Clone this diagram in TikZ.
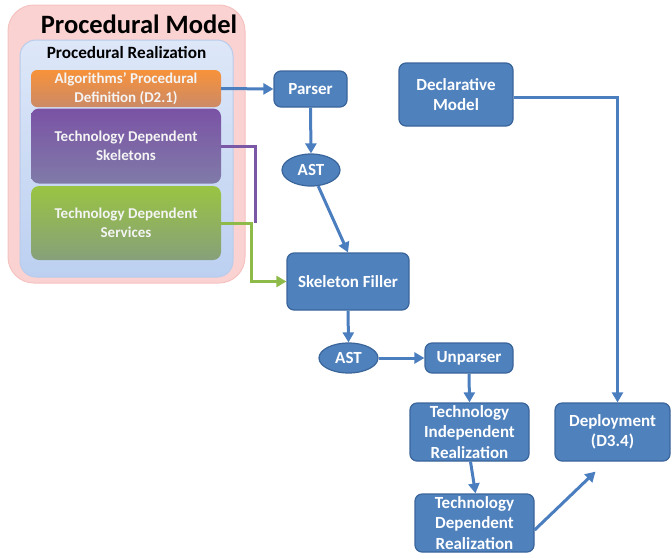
\documentclass[tikz,border=0pt]{standalone}
\usepackage{fontspec}
\setmainfont{Carlito}
\usetikzlibrary{arrows.meta,shapes.geometric}
\definecolor{boxblue}{HTML}{4F81BD}
\definecolor{boxedge}{HTML}{3A659A}
\definecolor{linkblue}{HTML}{4A7EBF}
\definecolor{pinkfill}{HTML}{FAD2D1}
\definecolor{pinkedge}{HTML}{F5C3C0}
\definecolor{paleblue}{HTML}{DDE7F8}
\definecolor{paleblue2}{HTML}{BCD0F1}
\definecolor{paleedge}{HTML}{B9CCEC}
\definecolor{orangetop}{HTML}{F7923A}
\definecolor{orangebot}{HTML}{CC8A66}
\definecolor{purpletop}{HTML}{7A52A5}
\definecolor{purplebot}{HTML}{807BA8}
\definecolor{greentop}{HTML}{99C442}
\definecolor{greenbot}{HTML}{87A07A}
\definecolor{purpleline}{HTML}{7B58A6}
\definecolor{greenline}{HTML}{8DBA48}
\definecolor{softwhite}{HTML}{F4F4F4}
\tikzset{
  bluebox/.style={rectangle, rounded corners=7pt, fill=boxblue, draw=boxedge,
    line width=1.2pt, text=white, align=center, inner sep=0pt,
    font=\bfseries\fontsize{17}{20.5}\selectfont},
  blueoval/.style={ellipse, fill=boxblue, draw=boxedge, line width=1.2pt,
    text=white, inner sep=0pt, font=\bfseries\fontsize{17}{20}\selectfont},
  procbox/.style={rectangle, rounded corners=8pt, draw=none, text=softwhite,
    align=center, inner sep=0pt, minimum width=190pt,
    font=\bfseries\fontsize{15}{19}\selectfont},
  link/.style={draw=linkblue, line width=3pt,
    -{Triangle[length=10pt,width=11pt]}},
}
\begin{document}
\begin{tikzpicture}[x=1pt,y=-1pt]
\useasboundingbox (0,0) rectangle (671,555);

% procedural model container
\node[rectangle, rounded corners=26pt, fill=pinkfill, draw=pinkedge, line width=1pt,
  minimum width=237pt, minimum height=278pt] (model) at (126.5,144) {};
\node[font=\bfseries\fontsize{26.5}{28}\selectfont] (modeltitle) at (139,24) {Procedural Model};
\node[rectangle, rounded corners=16pt, top color=paleblue, bottom color=paleblue2,
  draw=paleedge, line width=1pt, minimum width=213pt, minimum height=237pt]
  (real) at (126.5,158.5) {};
\node[font=\bfseries\fontsize{17.2}{19}\selectfont] (realtitle) at (126.5,53) {Procedural Realization};

\node[procbox, top color=orangetop, bottom color=orangebot, minimum height=37pt,
  rounded corners=6pt] (algo) at (126,88.5) {Algorithms' Procedural\\Definition (D2.1)};
\node[procbox, top color=purpletop, bottom color=purplebot, minimum height=75pt]
  (skel) at (126,146) {Technology Dependent\\Skeletons};
\node[procbox, top color=greentop, bottom color=greenbot, minimum height=74pt]
  (serv) at (126,223) {Technology Dependent\\Services};

% processing chain
\node[bluebox, minimum width=73pt, minimum height=36pt] (parser) at (310.5,89) {Parser};
\node[blueoval, minimum width=58pt, minimum height=32pt] (ast1) at (311,170) {AST};
\node[bluebox, minimum width=122pt, minimum height=57pt] (filler) at (348,281.5) {Skeleton Filler};
\node[bluebox, minimum width=114pt, minimum height=63pt] (decl) at (456,94.5) {Declarative\\Model};
\node[blueoval, minimum width=59pt, minimum height=30pt] (ast2) at (348.5,358) {AST};
\node[bluebox, minimum width=88pt, minimum height=30pt] (unparser) at (469,358) {Unparser};
\node[bluebox, minimum width=119pt, minimum height=58pt] (tir) at (469.5,432)
  {Technology\\Independent\\Realization};
\node[bluebox, minimum width=119pt, minimum height=58pt] (tdr) at (474.5,523)
  {Technology\\Dependent\\Realization};
\node[bluebox, minimum width=115pt, minimum height=58pt] (deploy) at (612.5,432)
  {Deployment\\(D3.4)};

% connectors
\coordinate (gbend) at (251,223);
\coordinate (pend) at (255,223);
\draw[draw=purpleline, line width=3pt] (skel.east) -| (pend);
\draw[link, draw=greenline, -{Triangle[length=10pt,width=11pt,fill=greenline]}]
  (serv.east) -- (gbend) |- (filler.west);
\draw[link] (algo.east) -- (parser.west);
\draw[link] (parser.south) -- (ast1.north);
\draw[link] (ast1) -- (filler.north);
\draw[link] (filler.south) -- (ast2.north);
\draw[link] (ast2.east) -- (unparser.west);
\draw[link] (unparser.south) -- (tir.north);
\draw[link] ([xshift=1pt]tir.south) -- ([xshift=1pt]tdr.north);
\draw[link] ([yshift=-7pt]tdr.east) -- ([xshift=-17pt,yshift=-10pt]deploy.south);
\draw[link] ([yshift=-3pt]decl.east) -| ([xshift=5pt]deploy.north);
\end{tikzpicture}
\end{document}
